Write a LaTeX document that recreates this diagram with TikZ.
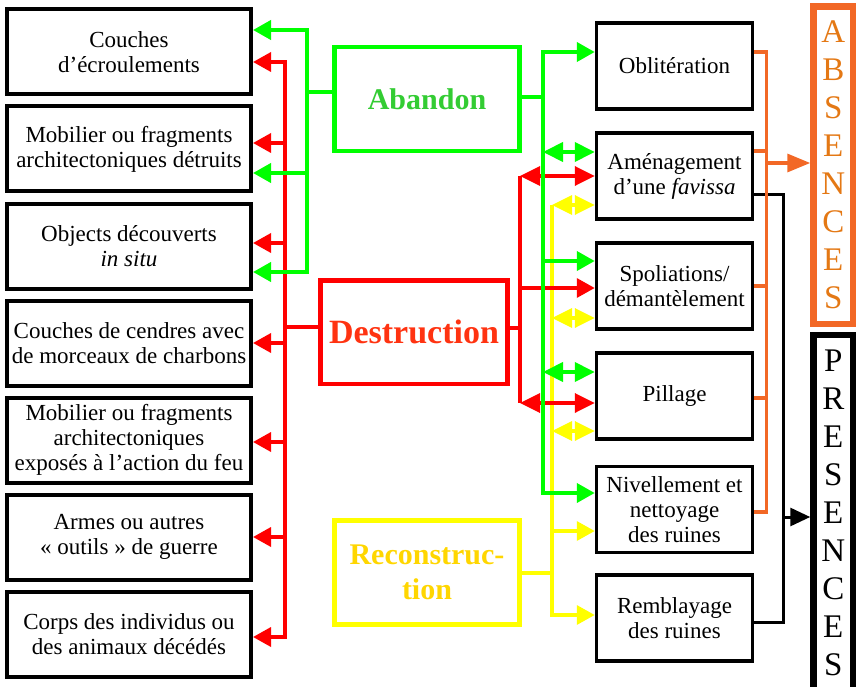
\documentclass[tikz,border=0pt]{standalone}
\usepackage{fontspec}
\setmainfont{Liberation Serif}
\usetikzlibrary{arrows.meta,positioning}

\definecolor{abgreen}{RGB}{0,255,0}
\definecolor{abtext}{RGB}{51,204,51}
\definecolor{dsred}{RGB}{255,0,0}
\definecolor{dstext}{RGB}{255,51,17}
\definecolor{rcyellow}{RGB}{255,255,0}
\definecolor{rctext}{RGB}{255,214,0}
\definecolor{absorange}{RGB}{242,104,38}
\definecolor{abstext}{RGB}{228,120,20}

\begin{document}
\begin{tikzpicture}[
  x=1pt, y=-1pt,
  trace/.style={draw, line width=4pt, minimum width=244pt, minimum height=85pt, align=center, inner sep=2pt, font=\fontsize{23}{25}\selectfont},
  event/.style={draw, line width=3.5pt, minimum width=156pt, minimum height=86pt, align=center, inner sep=2pt, font=\fontsize{23}{25}\selectfont},
  phase/.style={draw, line width=4.5pt, minimum width=185pt, minimum height=104pt, align=center, font=\fontsize{30}{35}\selectfont\bfseries},
  column/.style={draw, line width=6.5pt, minimum width=39.5pt, align=center, inner sep=0pt, font=\fontsize{33}{38}\selectfont},
  gline/.style={abgreen, line width=4pt},
  rline/.style={dsred, line width=3.5pt},
  yline/.style={rcyellow, line width=3.5pt},
  oline/.style={absorange, line width=3.3pt},
  kline/.style={black, line width=3pt},
  onehead/.style={-{Triangle[length=18pt, width=19pt]}},
  twohead/.style={{Triangle[length=20pt, width=19pt]}-{Triangle[length=20pt, width=19pt]}}
]
\useasboundingbox (0,0) rectangle (856,687);
\clip (0,0) rectangle (856,687);

\node[trace] (l1) at (129,52) {Couches\\d’écroulements};
\node[trace, below=8pt of l1] (l2) {Mobilier ou fragments\\architectoniques détruits};
\node[trace, below=8pt of l2] (l3) {Objects découverts\\\textit{in situ}};
\node[trace, below=8pt of l3] (l4) {Couches de cendres avec\\de morceaux de charbons};
\node[trace, below=8pt of l4] (l5) {Mobilier ou fragments\\architectoniques\\exposés à l’action du feu};
\node[trace, below=8pt of l5] (l6) {Armes ou autres\\« outils » de guerre};
\node[trace, below=8pt of l6] (l7) {Corps des individus ou\\des animaux décédés};

\node[phase, abgreen, text=abtext] (abandon) at (427,99) {Abandon};
\node[phase, dsred, text=dstext, minimum width=187pt, minimum height=103.5pt, font=\fontsize{34}{38}\selectfont\bfseries] (destruction) at (414,332) {Destruction};
\node[phase, rcyellow, text=rctext] (reconstruction) at (427,572.5) {Reconstruc-\\tion};

\node[event] (r1) at (674.5,66) {Oblitération};
\node[event, below=20.5pt of r1] (r2) {Aménagement\\d’une \textit{favissa}};
\node[event, below=20.5pt of r2] (r3) {Spoliations/\\démantèlement};
\node[event, below=20.5pt of r3] (r4) {Pillage};
\node[event, below=24pt of r4] (r5) {Nivellement et\\nettoyage\\des ruines};
\node[event, below=19pt of r5] (r6) {Remblayage\\des ruines};

\node[column, absorange, text=abstext, minimum height=317.5pt] (absences) at (833.25,165.25) {A\\B\\S\\E\\N\\C\\E\\S};
\node[column, minimum height=356pt] (presences) at (833.25,513) {P\\R\\E\\S\\E\\N\\C\\E\\S};

\coordinate (rL) at (285,327);
\draw[rline] (destruction.west |- rL) -- (rL);
\draw[rline, onehead] (rL) |- ([yshift=-10pt]l1.east);
\draw[rline, onehead] (rL) |- ([yshift=6pt]l2.east);
\draw[rline, onehead] (rL) |- ([yshift=3pt]l3.east);
\draw[rline, onehead] (rL) |- (l4.east);
\draw[rline, onehead] (rL) |- ([yshift=-2pt]l5.east);
\draw[rline, onehead] (rL) |- (l6.east);
\draw[rline, onehead] (rL) |- ([yshift=-3pt]l7.east);

\coordinate (gL) at (307,92);
\draw[gline] (abandon.west |- gL) -- (gL);
\draw[gline, onehead] (gL) |- ([yshift=22pt]l1.east);
\draw[gline, onehead] (gL) |- ([yshift=-24pt]l2.east);
\draw[gline, onehead] (gL) |- ([yshift=-26pt]l3.east);

\coordinate (yR) at (552,573);
\coordinate (y2) at (552,205);
\coordinate (y3) at (552,318);
\coordinate (y4) at (552,431);
\draw[yline] (reconstruction.east |- yR) -- (yR);
\draw[yline] (y2) -- (yR);
\draw[yline, onehead] (yR) |- ([yshift=-21.5pt]r5.west);
\draw[yline, onehead] (yR) |- ([yshift=3pt]r6.west);
\draw[yline, twohead] (y2) -- (y2 -| r2.west);
\draw[yline, twohead] (y3) -- (y3 -| r3.west);
\draw[yline, twohead] (y4) -- (y4 -| r4.west);

\coordinate (rR) at (520,328);
\coordinate (r2red) at (520,176);
\coordinate (r4red) at (520,403);
\draw[rline] (destruction.east |- rR) -- (rR);
\draw[rline] (r2red) -- (r4red);
\draw[rline, twohead] (r2red) -- (r2red -| r2.west);
\draw[rline, onehead] (rR) |- ([yshift=-2pt]r3.west);
\draw[rline, twohead] (r4red) -- (r4red -| r4.west);

\coordinate (gR) at (543,97);
\coordinate (g2) at (543,152);
\coordinate (g4) at (543,372);
\draw[gline] (abandon.east |- gR) -- (gR);
\draw[gline, onehead] (gR) |- ([yshift=14pt]r1.west);
\draw[gline, onehead] (gR) |- ([yshift=25pt]r3.west);
\draw[gline, onehead] (gR) |- ([yshift=16.5pt]r5.west);
\draw[gline, twohead] (g2) -- (g2 -| r2.west);
\draw[gline, twohead] (g4) -- (g4 -| r4.west);

\coordinate (kJ) at (783,517);
\draw[kline] (kJ) |- ([yshift=-19pt]r2.east);
\draw[kline] (kJ) |- ([yshift=-4pt]r6.east);
\draw[kline, -{Triangle[length=20pt, width=18pt]}] (kJ) -- (kJ -| presences.west);

\coordinate (oJ) at (766.5,163);
\draw[oline] (oJ) |- ([yshift=14pt]r1.east);
\draw[oline] (oJ) |- ([yshift=25pt]r2.east);
\draw[oline] (oJ) |- (r3.east);
\draw[oline] (oJ) |- ([yshift=-2pt]r4.east);
\draw[oline] (oJ) |- ([yshift=-2.5pt]r5.east);
\draw[oline, -{Triangle[length=23pt, width=18pt]}] (oJ) -- (oJ -| absences.west);

\end{tikzpicture}
\end{document}
